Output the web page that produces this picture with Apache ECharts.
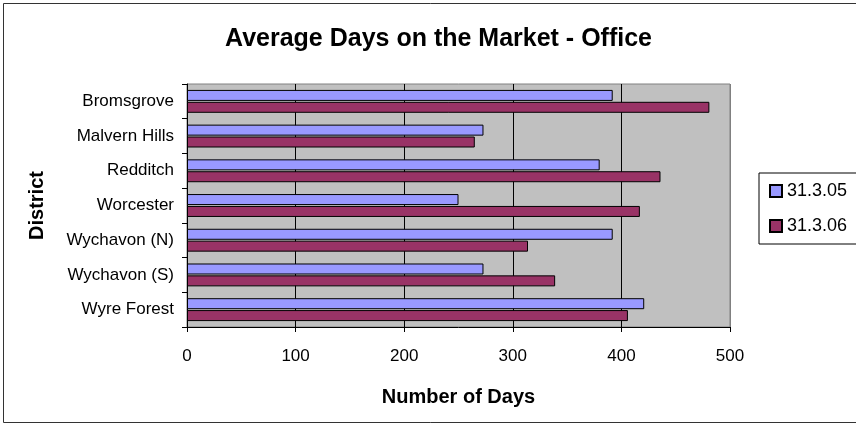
<!DOCTYPE html>
<html>
<head>
<meta charset="utf-8">
<script src="https://cdn.jsdelivr.net/npm/echarts@6/dist/echarts.min.js"></script>
<style>
  html, body { margin: 0; padding: 0; background: #fff; }
  #chart { width: 856px; height: 426px; }
</style>
</head>
<body>
<div id="chart"></div>
<script>
const districts = ['Bromsgrove', 'Malvern Hills', 'Redditch', 'Worcester', 'Wychavon (N)', 'Wychavon (S)', 'Wyre Forest'];
const days2005 = [392, 273, 380, 250, 392, 273, 421];
const days2006 = [481, 265, 436, 417, 314, 339, 406];
const xTicks = { min: 0, max: 500, interval: 100 };

const myChart = echarts.init(document.getElementById('chart'));
const font = 'Liberation Sans, Arial, sans-serif';
const option = {
  textStyle: { fontFamily: font },
  title: {
    text: 'Average Days on the Market - Office',
    left: 220,
    top: 22,
    textStyle: { fontSize: 25, fontWeight: 'bold', color: '#000', fontFamily: font }
  },
  graphic: [{
    type: 'rect',
    shape: { x: 3.5, y: 3.5, width: 860, height: 419 },
    style: { fill: 'none', stroke: '#333', lineWidth: 1 },
    z: -1
  }],
  legend: {
    orient: 'vertical',
    left: 759,
    top: 173,
    itemWidth: 12,
    itemHeight: 12,
    itemGap: 17,
    padding: [9, 30, 9, 10],
    borderColor: '#000',
    borderWidth: 1,
    icon: 'rect',
    textStyle: { fontSize: 18, color: '#000', fontFamily: font },
    data: ['31.3.05', '31.3.06']
  },
  grid: {
    left: 187,
    right: 126,
    top: 84,
    bottom: 99,
    show: true,
    backgroundColor: '#c0c0c0',
    borderColor: '#808080',
    borderWidth: 1
  },
  xAxis: {
    type: 'value',
    min: xTicks.min,
    max: xTicks.max,
    interval: xTicks.interval,
    name: 'Number of Days',
    nameLocation: 'middle',
    nameGap: 60,
    nameTextStyle: { fontSize: 20, fontWeight: 'bold', color: '#000', fontFamily: font },
    axisLine: { show: true, lineStyle: { color: '#000' } },
    axisTick: { show: true, length: 5, lineStyle: { color: '#000' } },
    axisLabel: { fontSize: 17, color: '#000', margin: 21, fontFamily: font },
    splitLine: { show: true, lineStyle: { color: ['#000', '#000', '#000', '#000', '#000', '#808080'] } }
  },
  yAxis: {
    type: 'category',
    inverse: true,
    data: districts,
    name: 'District',
    nameLocation: 'middle',
    nameGap: 140,
    nameRotate: 90,
    nameTextStyle: { fontSize: 20, fontWeight: 'bold', color: '#000', fontFamily: font },
    axisLine: { show: true, lineStyle: { color: '#000' } },
    axisTick: { show: true, length: 5, lineStyle: { color: '#000' } },
    axisLabel: { fontSize: 17, color: '#000', margin: 13, fontFamily: font }
  },
  series: [
    {
      name: '31.3.05',
      type: 'bar',
      data: days2005,
      barWidth: 11,
      barGap: '8%',
      itemStyle: { color: '#9999ff', borderColor: '#000', borderWidth: 1 }
    },
    {
      name: '31.3.06',
      type: 'bar',
      data: days2006,
      barWidth: 11,
      itemStyle: { color: '#993366', borderColor: '#000', borderWidth: 1 }
    }
  ]
};
myChart.setOption(option);
</script>
</body>
</html>
